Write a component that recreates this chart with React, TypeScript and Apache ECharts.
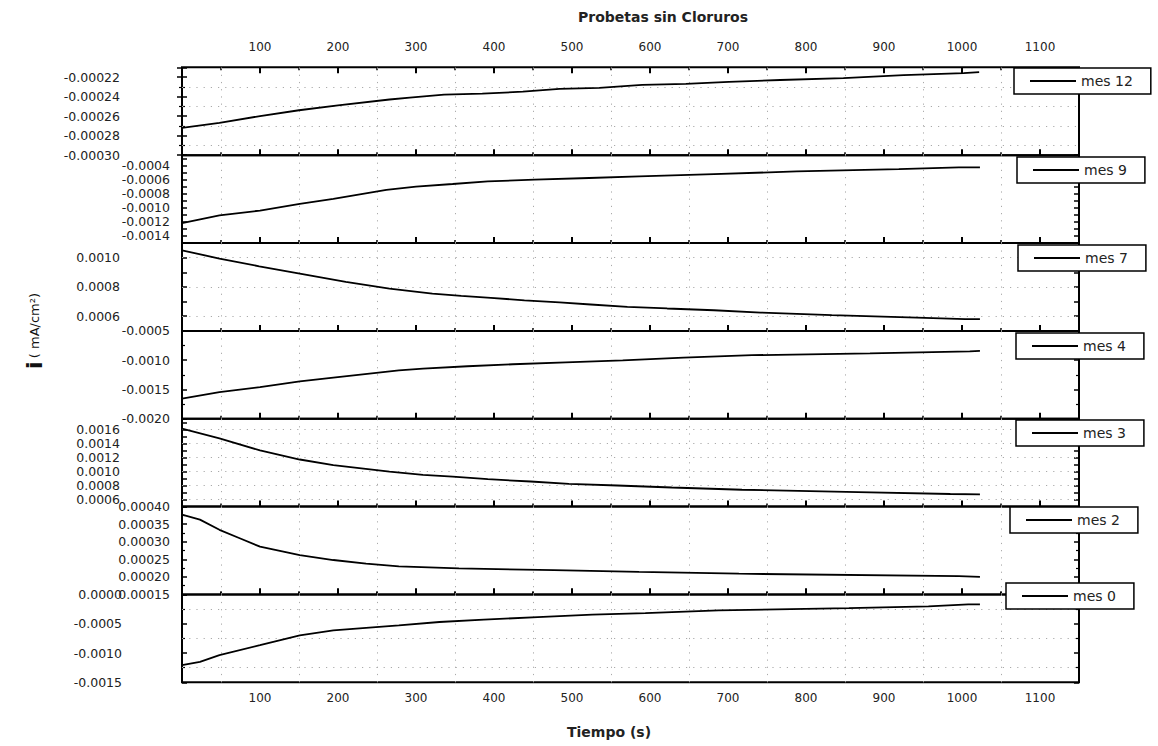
import React, { useEffect, useRef } from 'react';
import * as echarts from 'echarts';

// ---- data ----
const seriesNames = ['mes 12', 'mes 9', 'mes 7', 'mes 4', 'mes 3', 'mes 2', 'mes 0'];

const t12 = [0, 48, 100, 150, 200, 266, 292, 336, 385, 437, 484, 535, 590, 646, 701, 767, 848, 925, 1002, 1022];
const v12 = [-0.000272, -0.000267, -0.00026, -0.000254, -0.000249, -0.000243, -0.000241, -0.000238, -0.000237, -0.000235, -0.000232, -0.000231, -0.000228, -0.000227, -0.000225, -0.000223, -0.000221, -0.000218, -0.000216, -0.000215];

const t9 = [0, 48, 100, 151, 194, 262, 300, 347, 392, 452, 522, 586, 682, 788, 919, 996, 1023];
const v9 = [-0.001217, -0.001108, -0.001038, -0.000943, -0.000872, -0.000745, -0.000698, -0.00066, -0.000623, -0.000599, -0.000575, -0.000553, -0.000519, -0.000482, -0.000448, -0.000425, -0.000425];

const t7 = [0, 48, 99, 151, 210, 266, 321, 358, 396, 439, 484, 524, 571, 622, 682, 742, 833, 942, 1004, 1023];
const v7 = [0.00105, 0.000994, 0.000941, 0.000891, 0.000834, 0.000789, 0.000755, 0.000739, 0.000725, 0.000709, 0.000694, 0.00068, 0.000664, 0.000653, 0.000641, 0.000625, 0.000607, 0.000591, 0.00058, 0.00058];

const t4 = [0, 48, 100, 151, 194, 278, 309, 366, 424, 492, 565, 643, 731, 882, 1010, 1023];
const v4 = [-0.001658, -0.001545, -0.001459, -0.001361, -0.001298, -0.001173, -0.001144, -0.001104, -0.00107, -0.001036, -0.001002, -0.000955, -0.000915, -0.000885, -0.00085, -0.000842];

const t3 = [0, 48, 100, 151, 194, 266, 309, 347, 392, 447, 496, 558, 628, 718, 867, 985, 1023];
const v3 = [0.001609, 0.00147, 0.0013, 0.00117, 0.00109, 0.000998, 0.000951, 0.000927, 0.00089, 0.000857, 0.000824, 0.0008, 0.000772, 0.00074, 0.000707, 0.000679, 0.000675];

const t2 = [0, 23, 48, 74, 100, 130, 151, 194, 236, 278, 355, 477, 586, 714, 996, 1023];
const v2 = [0.000377, 0.000363, 0.000334, 0.00031, 0.000286, 0.000272, 0.000262, 0.000248, 0.000238, 0.00023, 0.000224, 0.000219, 0.000214, 0.000209, 0.000202, 0.0002];

const t0 = [0, 23, 48, 100, 151, 194, 278, 330, 387, 456, 526, 594, 688, 855, 957, 1008, 1023];
const v0 = [-0.001206, -0.00115, -0.001036, -0.000866, -0.000697, -0.000612, -0.000527, -0.00047, -0.00043, -0.000386, -0.000345, -0.000318, -0.000272, -0.000233, -0.000204, -0.00017, -0.00017];

const times = [t12, t9, t7, t4, t3, t2, t0];
const values = [v12, v9, v7, v4, v3, v2, v0];

// axis scales
const yMin = [-0.0003, -0.0015, 0.0005, -0.002, 0.0005, 0.00015, -0.0015];
const yMax = [-0.00021, -0.00025, 0.0011, -0.0005, 0.00175, 0.0004, 0];
const yInterval = [0.00002, 0.0001, 0.0001, 0.0005, 0.0001, 0.00005, 0.0005];
const yLabelStep = [0.00002, 0.0002, 0.0002, 0.0005, 0.0002, 0.00005, 0.0005];
const yDecimals = [5, 4, 4, 4, 4, 5, 4];
const yMinorSplit = [2, 0, 0, 2, 0, 2, 2];
const hGridValues = [
  [-0.00023, -0.00025, -0.00027, -0.00029],
  [],
  [0.0006, 0.0008, 0.001],
  [],
  [0.0006, 0.0008, 0.001, 0.0012, 0.0014, 0.0016],
  [],
  [-0.00025, -0.00075, -0.00125],
];
const vGridValues = [50, 150, 250, 350, 450, 550, 650, 750, 850, 950, 1050];
const xMin = 0;
const xMax = 1150;
const xInterval = 100;

// layout
const GRID_LEFT = 182;
const GRID_RIGHT = 79;
const GRID_TOP = 67.3;
const GRID_H = 87.86;
const labelMargins = [62, 12, 62, 12, 62, 12, 60];
const legendPos = [[1014, 68], [1017, 157], [1018, 245], [1016, 333], [1016, 420], [1010, 507], [1006, 583]];

const FONT = 'DejaVu Sans';

export default function App() {
  const ref = useRef<HTMLDivElement>(null);
  useEffect(() => {
    if (!ref.current) return;
    const chart = echarts.init(ref.current, undefined, { renderer: 'svg' });
    const n = seriesNames.length;

    const grids = seriesNames.map((_, i) => ({
      left: GRID_LEFT,
      right: GRID_RIGHT,
      top: GRID_TOP + i * GRID_H,
      height: GRID_H,
      show: true,
      borderColor: '#000',
      borderWidth: 2,
      backgroundColor: 'transparent',
    }));

    const xLabelFmt = (v: number) => (v > 0 && v <= 1100 && Math.abs(v % 100) < 1e-6 ? String(v) : '');
    const xBase = (i: number, pos: string, showLabel: boolean, margin: number) => ({
      type: 'value',
      gridIndex: i,
      position: pos,
      min: xMin,
      max: xMax,
      interval: xInterval,
      axisLine: { show: false },
      axisTick: { show: true, inside: true, length: 6, lineStyle: { color: '#000', width: 2 } },
      minorTick: { show: true, splitNumber: 2, length: 3, lineStyle: { color: '#000', width: 1.5 } },
      splitLine: { show: false },
      minorSplitLine: { show: false },
      axisLabel: {
        show: showLabel,
        margin,
        formatter: xLabelFmt,
        fontFamily: FONT,
        fontSize: 12,
        color: '#222',
      },
    });
    const xAxes: any[] = seriesNames.map((_, i) => xBase(i, 'bottom', i === n - 1, 10));
    xAxes.push(xBase(0, 'top', true, 14));

    const yBase = (i: number, pos: string, showLabel: boolean) => {
      const step = yLabelStep[i];
      const dec = yDecimals[i];
      return {
        type: 'value',
        gridIndex: i,
        position: pos,
        min: yMin[i],
        max: yMax[i],
        interval: yInterval[i],
        axisLine: { show: false },
        axisTick: { show: true, inside: true, length: 5, lineStyle: { color: '#000', width: 1.5 } },
        minorTick: {
          show: yMinorSplit[i] > 0,
          splitNumber: yMinorSplit[i] || 2,
          length: 3,
          lineStyle: { color: '#000', width: 1.2 },
        },
        splitLine: { show: false },
        minorSplitLine: { show: false },
        axisLabel: {
          show: showLabel,
          margin: labelMargins[i],
          fontFamily: FONT,
          fontSize: 12.5,
          color: '#222',
          showMinLabel: true,
          showMaxLabel: true,
          formatter: (v: number) => {
            const k = v / step;
            if (Math.abs(k - Math.round(k)) > 1e-4) return '';
            const vv = Math.abs(v) < 1e-12 ? 0 : v;
            return vv.toFixed(dec);
          },
        },
      };
    };
    const yAxes: any[] = [];
    seriesNames.forEach((_, i) => yAxes.push(yBase(i, 'left', true)));
    seriesNames.forEach((_, i) => yAxes.push(yBase(i, 'right', false)));

    const series = seriesNames.map((name, i) => ({
      type: 'line',
      name,
      xAxisIndex: i,
      yAxisIndex: i,
      data: times[i].map((t, j) => [t, values[i][j]]),
      symbol: 'none',
      showSymbol: false,
      lineStyle: { color: '#000', width: 1.8 },
      itemStyle: { color: '#000' },
      z: 2,
      markLine: {
        silent: true,
        symbol: 'none',
        precision: 10,
        z: 1,
        label: { show: false },
        emphasis: { disabled: true },
        lineStyle: { type: [1.2, 6], color: '#aaa', width: 1 },
        data: [
          ...vGridValues.map((x) => ({ xAxis: x })),
          ...hGridValues[i].map((y) => ({ yAxis: y })),
        ],
      },
    }));

    const legends = seriesNames.map((name, i) => ({
      data: [name],
      left: legendPos[i][0],
      top: legendPos[i][1],
      z: 20,
      orient: 'horizontal',
      icon: 'rect',
      itemWidth: 46,
      itemHeight: 2,
      itemGap: 0,
      padding: [6, 18, 6, 16],
      borderColor: '#000',
      borderWidth: 1.5,
      borderRadius: 0,
      backgroundColor: '#fff',
      selectedMode: false,
      textStyle: { fontSize: 14, fontFamily: FONT, color: '#222' },
    }));

    chart.setOption({
      animation: false,
      backgroundColor: '#fff',
      grid: grids,
      xAxis: xAxes,
      yAxis: yAxes,
      series,
      legend: legends,
      graphic: [
        {
          type: 'text',
          x: 663,
          y: 17,
          style: {
            text: 'Probetas sin Cloruros',
            fontSize: 14,
            fontWeight: 'bold',
            fontFamily: FONT,
            fill: '#222',
            align: 'center',
            verticalAlign: 'middle',
          },
        },
        {
          type: 'text',
          x: 609,
          y: 732,
          style: {
            text: 'Tiempo (s)',
            fontSize: 14,
            fontWeight: 'bold',
            fontFamily: FONT,
            fill: '#222',
            align: 'center',
            verticalAlign: 'middle',
          },
        },
        {
          type: 'text',
          x: 34,
          y: 331,
          rotation: Math.PI / 2,
          style: {
            text: '{a|i} {b|( mA/cm²)}',
            rich: {
              a: { fontSize: 22, fontWeight: 'bold', fontFamily: FONT, fill: '#111' },
              b: { fontSize: 13, fontFamily: FONT, fill: '#111' },
            },
            align: 'center',
            verticalAlign: 'middle',
          },
        },
      ],
    });
    return () => chart.dispose();
  }, []);
  return <div ref={ref} style={{ position: 'absolute', left: 0, top: 0, width: 1158, height: 746 }} />;
}
